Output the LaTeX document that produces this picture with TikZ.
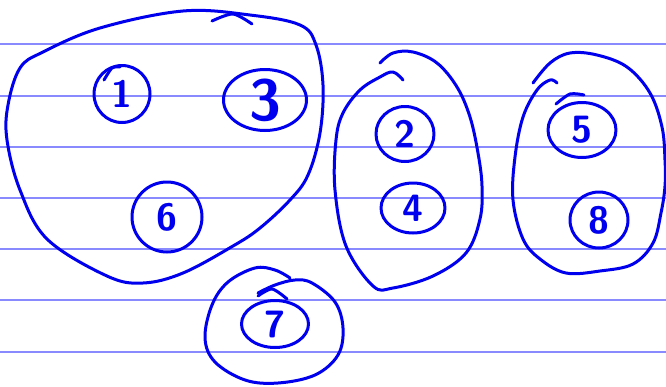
\documentclass[tikz,border=0pt]{standalone}
\usepackage{tikz}
\usetikzlibrary{shapes.geometric}
\definecolor{inkblue}{HTML}{0000EE}
\definecolor{ruleblue}{HTML}{8A8AFF}
\tikzset{
  ruling/.style={draw=ruleblue, line width=1.6pt},
  ink/.style={draw=inkblue, line width=3pt, line cap=round, line join=round},
  elem/.style={ellipse, ink, inner sep=0pt, text=inkblue,
               font=\sffamily\bfseries\fontsize{38}{38}\selectfont},
}

\begin{document}
\begin{tikzpicture}[x=1pt, y=-1pt]
\useasboundingbox (0,0) rectangle (666,386);

% ---------------------------------------------------------------- ruled paper
\foreach \y in {44,96,147,198,249,300,352}
  \draw[ruling] (0,\y) -- (666,\y);

% ---------------------------------------------------------------- elements
\node[elem, minimum width=56pt, minimum height=57pt] (e1) at (122,94) {1};
\node[elem, minimum width=83pt, minimum height=61pt,
      font=\sffamily\bfseries\fontsize{58}{58}\selectfont] (e3) at (265,100) {3};
\node[elem, minimum width=70pt, minimum height=70pt] (e6) at (167,217) {6};
\node[elem, minimum width=58pt, minimum height=55pt] (e2) at (405,134) {2};
\node[elem, minimum width=64pt, minimum height=50pt] (e4) at (413,208) {4};
\node[elem, minimum width=68pt, minimum height=55pt] (e5) at (582,130) {5};
\node[elem, minimum width=58pt, minimum height=56pt] (e8) at (599,220) {8};
\node[elem, minimum width=67pt, minimum height=47pt] (e7) at (275,324) {7};

% little pen hooks on the elements
\draw[ink] plot[smooth] coordinates {(556,104) (570,94) (584,95)};
\draw[ink] plot[smooth] coordinates {(104,80) (112,68) (120,67)};
\draw[ink] plot[smooth] coordinates {(258,296) (272,289) (287,299)};

% ---------------------------------------------------------------- sets
% {1,3,6}
\draw[ink] plot[smooth cycle, tension=0.6] coordinates {
  (43,52) (100,28) (183,11) (250,15) (300,25) (316,45) (323,85)
  (320,133) (308,175) (290,200) (260,228) (233,246) (183,273)
  (143,283) (107,276) (47,239) (20,190) (7,140) (8,105) (20,68)};
\draw[ink] plot[smooth] coordinates {(212,21) (233,14) (252,24)};

% {2,4}
\draw[ink] plot[smooth, tension=0.6] coordinates {
  (403,80) (393,72) (380,77) (360,90) (343,113) (336,140) (335,190)
  (346,246) (373,286) (393,288) (433,276) (466,253) (480,219)
  (482,186) (478,153) (470,117) (457,87) (437,63) (413,52) (393,53)
  (380,63)};

% {5,8}
\draw[ink] plot[smooth, tension=0.6] coordinates {
  (557,83) (550,80) (537,90) (523,117) (515,157) (513,200) (523,239)
  (540,259) (566,273) (600,271) (633,264) (653,243) (661,213)
  (665,186) (665,160) (662,127) (650,93) (627,67) (597,55) (570,53)
  (550,63) (533,83)};

% {7}
\draw[ink] plot[smooth, tension=0.6] coordinates {
  (290,278) (275,270) (255,268) (228,282) (212,305) (205,338)
  (215,362) (245,380) (278,383) (315,375) (338,355) (343,328)
  (335,302) (312,283) (295,280) (275,285) (258,293)};

\end{tikzpicture}
\end{document}
